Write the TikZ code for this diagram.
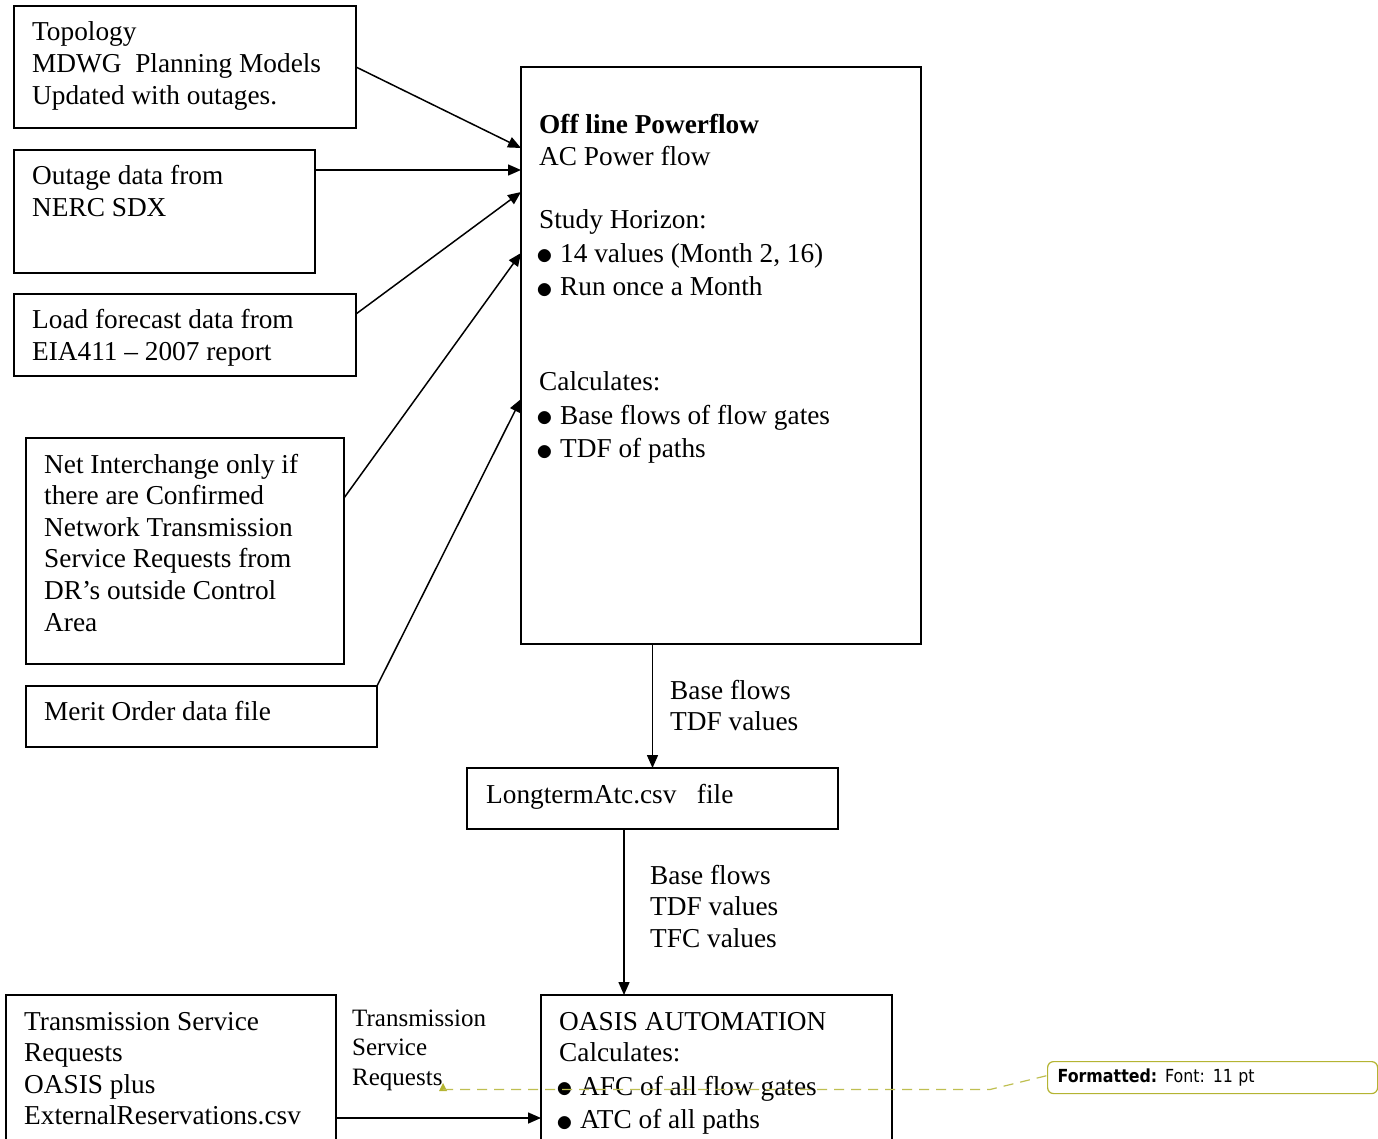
\documentclass[tikz,border=0pt]{standalone}
\usepackage{fontspec}
\setmainfont{Liberation Serif}
\newfontfamily\notefont{DejaVu Sans}
\usetikzlibrary{arrows.meta}
\newcommand{\bodysize}{\fontsize{27.3}{31.6}\selectfont}
\newcommand{\petitsize}{\fontsize{25}{29.5}\selectfont}
\newcommand{\lignes}[1]{\begin{tabular}[t]{@{}l@{}}#1\end{tabular}}
\newcommand{\puce}{\makebox[21pt][l]{\hspace*{-2.5pt}\raisebox{-2.6pt}{\scalebox{1.35}{$\bullet$}}}}
\definecolor{notecol}{RGB}{180,180,50}
\begin{document}
\begin{tikzpicture}[x=1pt,y=-1pt]
    \tikzstyle{boite}=[draw,line width=1.6pt,anchor=north west,inner sep=0pt,outer sep=0pt]
    \tikzstyle{texte}=[anchor=base west,inner sep=0pt,font=\bodysize]
    \tikzstyle{petit}=[texte,font=\petitsize]
    \tikzstyle{fleche}=[line width=1.5pt,-{Triangle[length=13pt,width=11pt]}]
    \tikzstyle{note}=[draw=notecol,line width=1.2pt,rounded corners=6pt,anchor=north west,align=left,font=\notefont\fontsize{18}{20}\selectfont]

% Fond
\path[use as bounding box,fill=white] (0,0) rectangle (1378,1139);

% Entrees
\node[boite,minimum width=342pt,minimum height=122pt] (topo) at (14,6) {};
\node[texte] (topo-t) at (32,41) {\lignes{Topology\\MDWG\ \ Planning Models\\Updated with outages.}};

\node[boite,minimum width=301pt,minimum height=123pt] (outage) at (14,150) {};
\node[texte] (outage-t) at (32,185) {\lignes{Outage data from\\NERC SDX}};

\node[boite,minimum width=342pt,minimum height=82pt] (load) at (14,294) {};
\node[texte] (load-t) at (32,329) {\lignes{Load forecast data from\\EIA411 – 2007 report}};

\node[boite,minimum width=318pt,minimum height=226pt] (net) at (26,438) {};
\node[texte] (net-t) at (44,473) {\lignes{Net Interchange only if\\there are Confirmed\\Network Transmission\\Service Requests from\\DR’s outside Control\\Area}};

\node[boite,minimum width=351pt,minimum height=61pt] (merit) at (26,686) {};
\node[texte] (merit-t) at (44,720) {Merit Order data file};

% Powerflow
\node[boite,minimum width=400pt,minimum height=577pt] (pf) at (521,67) {};
\node[texte] (pf-t) at (539,134) {\lignes{\textbf{Off line Powerflow}\\AC Power flow\\ \\Study Horizon:\\[2pt]
  \puce 14 values (Month 2, 16)\\[2pt]\puce Run once a Month\\ \\ \\Calculates:\\[2pt]
  \puce Base flows of flow gates\\[2pt]\puce TDF of paths}};

\draw[fleche] (topo.east) -- ([yshift=-81pt]pf.north west);
\draw[fleche] ([yshift=-20pt]outage.north east) -- ([yshift=-103pt]pf.north west);
\draw[fleche] ([yshift=-20pt]load.north east) -- ([yshift=-125pt]pf.north west);
\draw[fleche] ([yshift=-60pt]net.north east) -- ([yshift=-186pt]pf.north west);
\draw[fleche] (merit.north east) -- ([yshift=-332pt]pf.north west);

% Fichier
\node[boite,minimum width=371pt,minimum height=61pt] (ltatc) at (467,768) {};
\node[texte] (ltatc-t) at (486,803) {LongtermAtc.csv\ \ \ file};

\draw[fleche] (pf.south -| ltatc.north) -- (ltatc.north);
\node[texte] (flux1) at (670,699) {\lignes{Base flows\\TDF values}};

% OASIS
\node[boite,minimum width=351pt,minimum height=160pt] (oasis) at (541,995) {};
\node[texte] (oasis-t) at (559,1030) {\lignes{OASIS AUTOMATION\\Calculates:\\[2pt]
  \puce AFC of all flow gates\\[2pt]\puce ATC of all paths}};

\coordinate (oin) at ([xshift=83pt]oasis.north west);
\draw[fleche] (ltatc.south -| oin) -- (oin);
\node[texte] (flux2) at (650,884) {\lignes{Base flows\\TDF values\\TFC values}};

\node[boite,minimum width=330pt,minimum height=160pt] (tsr) at (6,995) {};
\node[texte] (tsr-t) at (24,1030) {\lignes{Transmission Service\\Requests\\OASIS plus\\ExternalReservations.csv}};

\draw[fleche] ([yshift=-123pt]tsr.north east) -- ([yshift=-123pt]oasis.north west);
\node[petit] (tsr-l) at (352,1026) {\lignes{Transmission\\Service\\Requests}};

% Commentaire
\node[note,minimum width=330pt,minimum height=32pt,text width=310pt,inner xsep=10pt] (fmt) at (1047,1061) {\scalebox{0.88}[1]{\textbf{Formatted:} Font: 11 pt}};
\coordinate (marque) at (443,1089.5);
\fill[notecol] ([xshift=-4pt,yshift=-1.5pt]marque) -- ++(8,0) -- ++(-4,-8) -- cycle;
\draw[notecol!85,dash pattern=on 10pt off 7pt,line width=1.2pt] (marque) -- (990,1089.5) -- ([yshift=2pt]fmt.west);

\end{tikzpicture}
\end{document}
